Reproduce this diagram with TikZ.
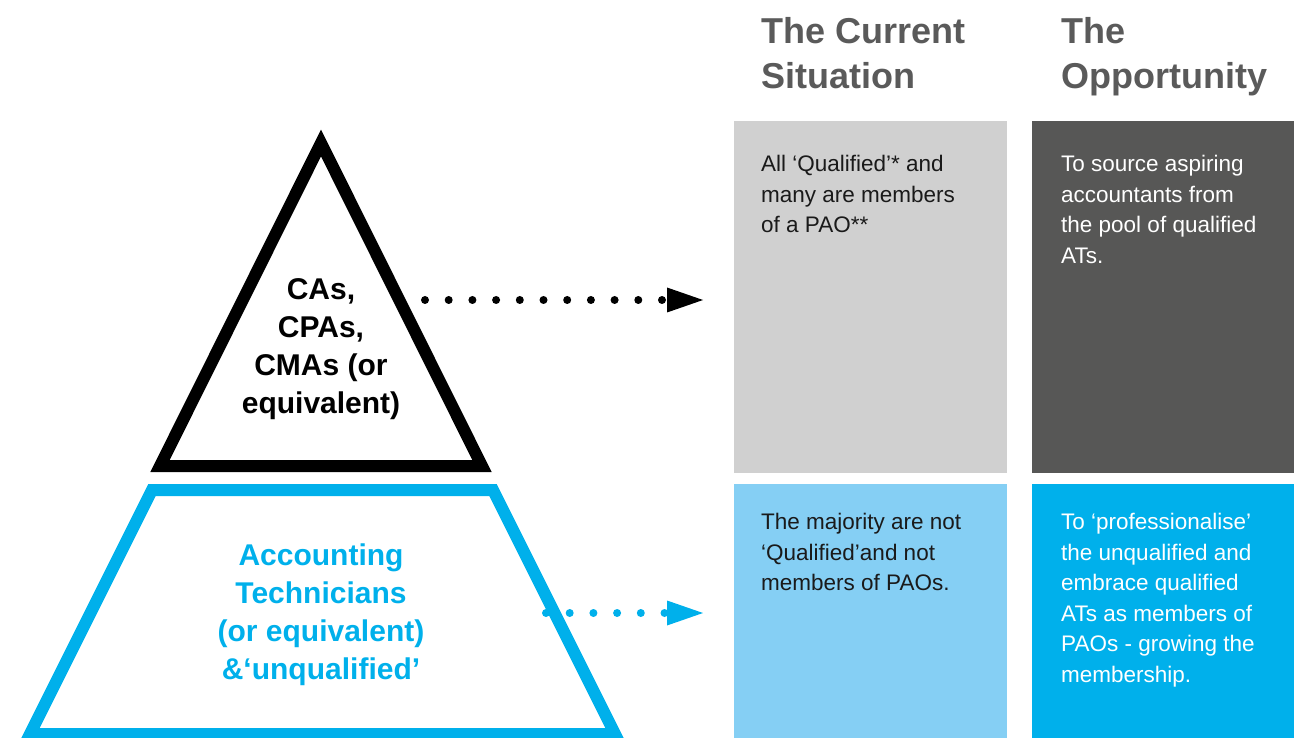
\documentclass[tikz,border=0pt]{standalone}
\usepackage{fontspec}
\setmainfont{Liberation Sans}
\usetikzlibrary{arrows.meta,positioning}
\definecolor{headgrey}{HTML}{5A5A5A}
\definecolor{boxgrey}{HTML}{D0D0D0}
\definecolor{boxdark}{HTML}{575756}
\definecolor{boxsky}{HTML}{85CFF4}
\definecolor{atblue}{HTML}{00B0EB}
\definecolor{inkblack}{HTML}{1A1A1A}
\tikzset{
  heading/.style={anchor=north west, inner sep=0pt, align=left, text=headgrey,
    font=\bfseries\fontsize{36}{45}\selectfont},
  tierlabel/.style={align=center, inner sep=0pt, font=\bfseries\fontsize{30}{38}\selectfont},
  panel/.style={rectangle, anchor=north west, inner sep=0pt},
  note/.style={align=left, inner sep=0pt, font=\fontsize{22.5}{30.5}\selectfont},
  dotarrow/.style={line width=8pt, line cap=round, dash pattern=on 0pt off 23.7pt,
    shorten >=31pt, -{Triangle[length=36pt,width=25pt,line width=0pt]}}
}
\begin{document}
\begin{tikzpicture}[x=1pt,y=-1pt]
    \useasboundingbox (0,0) rectangle (1294,738);
    % pyramid
    \draw[line width=12pt, line join=miter] (321,143) -- (482,466) -- (160,466) -- cycle;
    \draw[atblue, line width=12pt, line join=miter] (152,490) -- (493,490) -- (615,734) -- (30,734) -- cycle;
    \node[tierlabel] (ca) at (321,349) {CAs,\\CPAs,\\CMAs (or\\equivalent)};
    \node[tierlabel, text=atblue] (at) at (321,615) {Accounting\\Technicians\\(or equivalent)\\\&‘unqualified’};
    % headings
    \node[heading] (cur) at (761,17) {The Current\\Situation};
    \node[heading] (opp) at (1061,17) {The\\Opportunity};
    % panels
    \node[panel, fill=boxgrey, minimum width=273pt, minimum height=352pt] (curtop) at (734,121) {};
    \node[panel, fill=boxdark, minimum width=262pt, minimum height=352pt] (opptop) at (1032,121) {};
    \node[panel, fill=boxsky, minimum width=273pt, minimum height=254pt] (curlow) at (734,484) {};
    \node[panel, fill=atblue, minimum width=262pt, minimum height=254pt] (opplow) at (1032,484) {};
    \node[note, text=inkblack, below right=34pt and 27pt of curtop.north west] (curtoptext)
        {All ‘Qualified’* and\\many are members\\of a PAO**};
    \node[note, text=white, below right=34pt and 29pt of opptop.north west] (opptoptext)
        {To source aspiring\\accountants from\\the pool of qualified\\ATs.};
    \node[note, text=inkblack, below right=29pt and 27pt of curlow.north west] (curlowtext)
        {The majority are not\\‘Qualified’and not\\members of PAOs.};
    \node[note, text=white, below right=29pt and 29pt of opplow.north west] (opplowtext)
        {To ‘professionalise’\\the unqualified and\\embrace qualified\\ATs as members of\\PAOs - growing the\\membership.};
    % arrows
    \coordinate (catail) at (425,300);
    \coordinate (attail) at (546,613);
    \draw[dotarrow] (catail) -- (curtop.west |- catail);
    \draw[dotarrow, atblue] (attail) -- (curlow.west |- attail);
\end{tikzpicture}
\end{document}
